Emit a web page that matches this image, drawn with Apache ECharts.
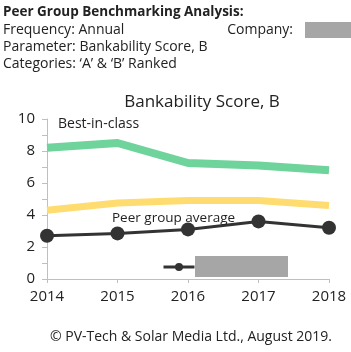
<!DOCTYPE html>
<html>
<head>
<meta charset="utf-8">
<script src="https://cdn.jsdelivr.net/npm/echarts@6/dist/echarts.min.js"></script>
<style>
  html, body { margin: 0; padding: 0; background: #fff; }
  #chart { width: 351px; height: 352px; }
</style>
</head>
<body>
<div id="chart"></div>
<script>
  const years = ["2014", "2015", "2016", "2017", "2018"]
  const bestInClass = [8.2, 8.5, 7.25, 7.1, 6.8]
  const peerAverage = [4.3, 4.75, 4.9, 4.9, 4.6]
  const company = [2.7, 2.85, 3.1, 3.6, 3.2]

  const font = "'Open Sans', 'Noto Sans', sans-serif"
  const textColor = "#222"

  const myChart = echarts.init(document.getElementById("chart"))
  const option = {
    backgroundColor: "#fff",
    animation: false,
    textStyle: { fontFamily: font },
    title: {
      text: "Bankability Score, B",
      left: 197,
      top: 89,
      textAlign: "center",
      textStyle: { fontSize: 17, fontWeight: "normal", color: textColor, fontFamily: font },
    },
    grid: { left: 47, right: 22, top: 119, bottom: 73 },
    legend: {
      data: [{ name: "Company" }],
      left: 157,
      top: 256,
      itemWidth: 31,
      itemHeight: 10,
      lineStyle: { width: 3 },
      textStyle: { fontSize: 12, color: "#fff" },
    },
    xAxis: {
      type: "category",
      data: years,
      boundaryGap: false,
      axisLine: { lineStyle: { color: "#bfbfbf" } },
      axisTick: { show: true, alignWithLabel: true, length: 4, lineStyle: { color: "#bfbfbf" } },
      axisLabel: { color: textColor, fontSize: 15, margin: 10 },
    },
    yAxis: {
      type: "value",
      min: 0,
      max: 10,
      interval: 2,
      splitLine: { show: false },
      axisLine: { show: true, lineStyle: { color: "#bfbfbf" } },
      axisTick: { show: true, length: 5, lineStyle: { color: "#bfbfbf" } },
      minorTick: { show: true, splitNumber: 2, length: 5, lineStyle: { color: "#bfbfbf" } },
      axisLabel: { color: textColor, fontSize: 15, margin: 12 },
    },
    series: [
      {
        name: "Best-in-class",
        type: "line",
        data: bestInClass,
        symbol: "none",
        lineStyle: { color: "#6fd39c", width: 8 },
        itemStyle: { color: "#6fd39c" },
      },
      {
        name: "Peer group average",
        type: "line",
        data: peerAverage,
        symbol: "none",
        lineStyle: { color: "#ffdc70", width: 7 },
        itemStyle: { color: "#ffdc70" },
      },
      {
        name: "Company",
        type: "line",
        data: company,
        symbol: "circle",
        symbolSize: 14,
        lineStyle: { color: "#333", width: 3 },
        itemStyle: { color: "#333" },
        z: 5,
      },
    ],
    graphic: [
      { type: "text", x: 3, y: 12, style: { text: "Peer Group Benchmarking Analysis:", font: "bold 13.5px " + font, fill: textColor, verticalAlign: "middle" } },
      { type: "text", x: 3, y: 30, style: { text: "Frequency: Annual", font: "14px " + font, fill: textColor, verticalAlign: "middle" } },
      { type: "text", x: 3, y: 47, style: { text: "Parameter: Bankability Score, B", font: "14px " + font, fill: textColor, verticalAlign: "middle" } },
      { type: "text", x: 3, y: 64, style: { text: "Categories: \u2018A\u2019 & \u2018B\u2019 Ranked", font: "14px " + font, fill: textColor, verticalAlign: "middle" } },
      { type: "text", x: 293, y: 30, style: { text: "Company:", font: "14px " + font, fill: textColor, align: "right", verticalAlign: "middle" } },
      { type: "rect", left: 305, top: 22, shape: { width: 46, height: 16 }, style: { fill: "#a6a6a6" } },
      { type: "text", x: 58, y: 124, style: { text: "Best-in-class", font: "14px " + font, fill: textColor, verticalAlign: "middle" } },
      { type: "text", x: 112, y: 218, z: 10, style: { text: "Peer group average", font: "13.5px " + font, fill: textColor, verticalAlign: "middle" } },
      { type: "rect", left: 195, top: 256, z: 100, shape: { width: 93, height: 21 }, style: { fill: "#a6a6a6" } },
      { type: "text", x: 191, y: 337, style: { text: "\u00a9 PV-Tech & Solar Media Ltd., August 2019.", font: "14px " + font, fill: textColor, align: "center", verticalAlign: "middle" } },
    ],
  }
  myChart.setOption(option)
</script>
</body>
</html>
